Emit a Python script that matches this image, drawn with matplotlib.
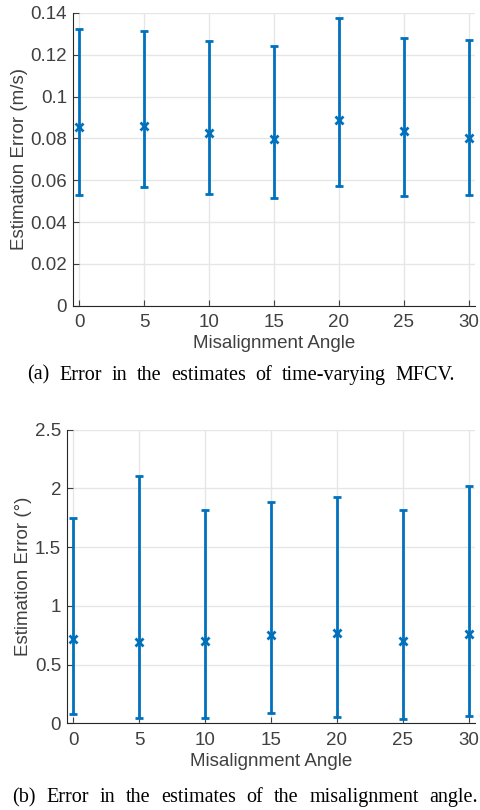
import numpy as np
import matplotlib.pyplot as plt
from matplotlib.ticker import FuncFormatter

# misalignment angles
angles = [0, 5, 10, 15, 20, 25, 30]

# (a) MFCV estimation error (m/s)
mfcv_mean = [0.0854, 0.0859, 0.0827, 0.0795, 0.0887, 0.0836, 0.0800]
mfcv_low = [0.0529, 0.0566, 0.0534, 0.0516, 0.0573, 0.0526, 0.0529]
mfcv_high = [0.1322, 0.1316, 0.1266, 0.1242, 0.1378, 0.1279, 0.1271]

# (b) misalignment angle estimation error (deg)
ang_mean = [0.720, 0.689, 0.698, 0.749, 0.766, 0.700, 0.757]
ang_low = [0.079, 0.048, 0.042, 0.088, 0.051, 0.039, 0.062]
ang_high = [1.745, 2.110, 1.815, 1.886, 1.929, 1.815, 2.020]

blue = '#0072BD'
axc = '#262626'
sans = ['Liberation Sans', 'DejaVu Sans']
serif = ['Liberation Serif', 'DejaVu Serif']

def fmt(v, pos):
    return f'{v:g}'

def draw(ax, mean, low, high, ylim, yticks, ylabel):
    mean = np.array(mean)
    err = [mean - np.array(low), np.array(high) - mean]
    ax.errorbar(angles, mean, yerr=err, fmt='x', color=blue, ecolor=blue,
                elinewidth=2, capsize=3, capthick=2, markersize=6, mew=2)
    ax.set_xlim(-0.5, 30.5)
    ax.set_ylim(*ylim)
    ax.set_xticks(angles)
    ax.set_yticks(yticks)
    ax.yaxis.set_major_formatter(FuncFormatter(fmt))
    ax.grid(True, color='#e6e6e6', linewidth=1)
    ax.set_axisbelow(True)
    for s in ['top', 'right']:
        ax.spines[s].set_visible(False)
    for s in ['left', 'bottom']:
        ax.spines[s].set_color(axc)
    ax.tick_params(direction='in', colors='#404040', labelsize=13.5, length=4)
    ax.tick_params(axis='x', pad=6)
    ax.tick_params(axis='y', pad=4)
    for lab in ax.get_xticklabels() + ax.get_yticklabels():
        lab.set_family(sans)
    ax.set_xlabel('Misalignment Angle', fontsize=13.5, color='#404040', family=sans, labelpad=3)
    ax.set_ylabel(ylabel, fontsize=13.5, color='#404040', family=sans, labelpad=2)

fig = plt.figure(figsize=[4.8, 8.1], dpi=100)
ax_a = fig.add_axes([0.1515, 0.6226, 0.8385, 0.3614])
ax_b = fig.add_axes([0.139, 0.107, 0.851, 0.3625])

draw(ax_a, mfcv_mean, mfcv_low, mfcv_high, (0, 0.14),
     np.arange(0, 0.141, 0.02), 'Estimation Error (m/s)')
draw(ax_b, ang_mean, ang_low, ang_high, (0, 2.5),
     np.arange(0, 2.51, 0.5), 'Estimation Error (°)')

# justified captions, word by word
def caption(text, y, x0, x1):
    W = fig.get_figwidth() * fig.dpi
    words = text.split()
    ts = [fig.text(0, y, w, ha='left', va='center', fontsize=14.5, family=serif)
          for w in words]
    fig.canvas.draw()
    r = fig.canvas.get_renderer()
    widths = [t.get_window_extent(r).width for t in ts]
    gap = (x1 - x0 - sum(widths)) / (len(words) - 1)
    x = x0
    for t, w in zip(ts, widths):
        t.set_x(x / W)
        x += w + gap

caption('(a) Error in the estimates of time-varying MFCV.', 0.537, 27, 455)
caption('(b) Error in the estimates of the misalignment angle.', 0.015, 12, 478)

plt.savefig('out.png', dpi=100)
